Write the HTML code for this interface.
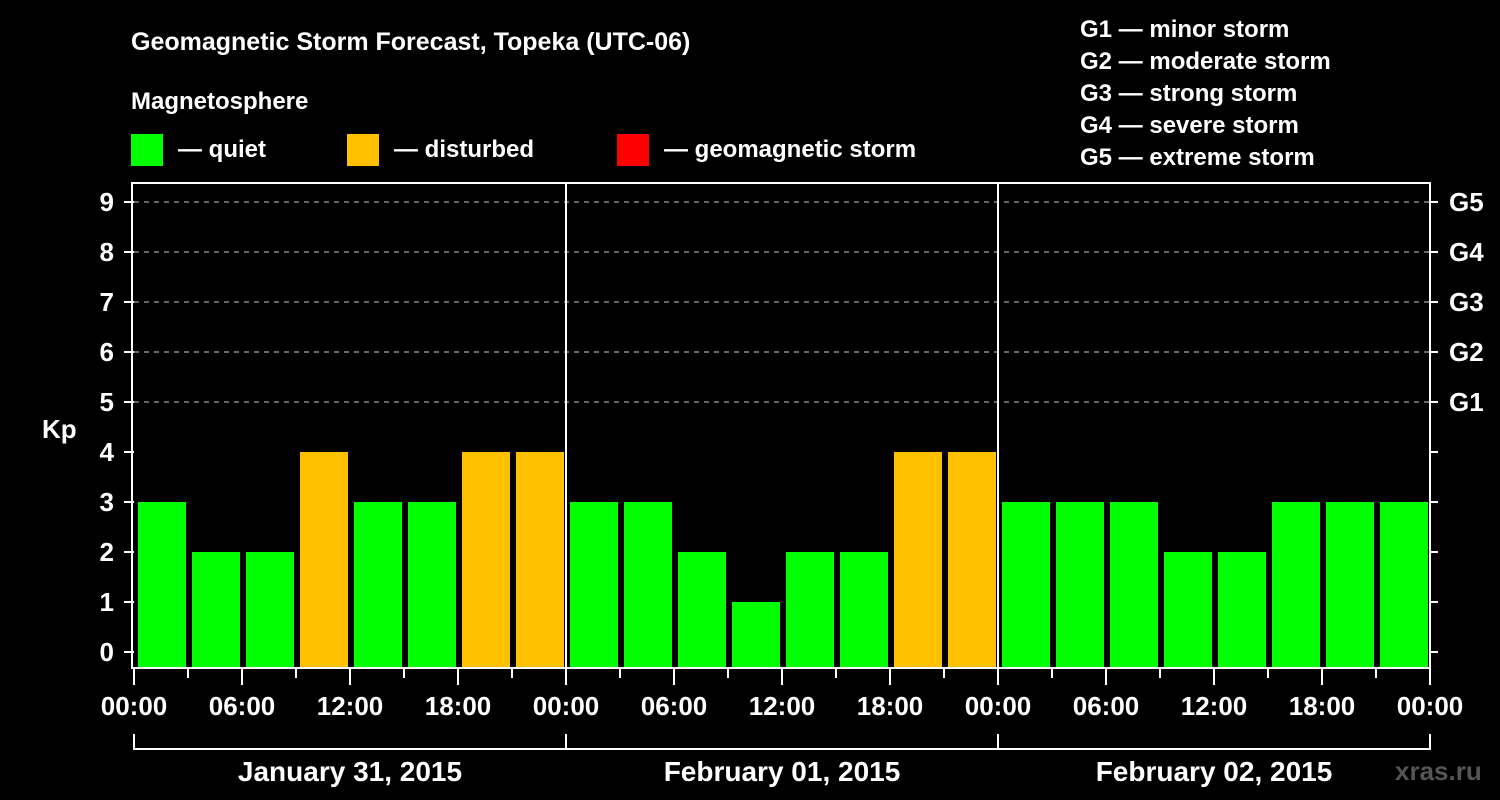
<!DOCTYPE html>
<html><head><meta charset="utf-8"><style>
body{margin:0;background:#000;}
svg{display:block;font-family:"Liberation Sans",Arial,sans-serif;font-weight:bold;}
</style></head><body>
<svg id="chart" width="1500" height="800" viewBox="0 0 1500 800">
<rect x="0" y="0" width="1500" height="800" fill="#000"/>
<text x="131" y="50" fill="#fff" font-size="25">Geomagnetic Storm Forecast, Topeka (UTC-06)</text>
<text x="131" y="109" fill="#fff" font-size="24">Magnetosphere</text>
<g><rect x="131" y="134" width="32" height="32" fill="#00ff00"/><text x="178" y="157" fill="#fff" font-size="24">— quiet</text></g>
<g><rect x="347" y="134" width="32" height="32" fill="#ffc000"/><text x="394" y="157" fill="#fff" font-size="24">— disturbed</text></g>
<g><rect x="617" y="134" width="32" height="32" fill="#ff0000"/><text x="664" y="157" fill="#fff" font-size="24">— geomagnetic storm</text></g>
<g fill="#fff" font-size="24">
<text x="1080" y="37">G1 — minor storm</text>
<text x="1080" y="69">G2 — moderate storm</text>
<text x="1080" y="101">G3 — strong storm</text>
<text x="1080" y="133">G4 — severe storm</text>
<text x="1080" y="165">G5 — extreme storm</text>
</g>
<text x="42" y="438" fill="#fff" font-size="26">Kp</text>
<text x="1395" y="780" fill="#555" font-size="26">xras.ru</text>
<g id="plot"></g>
</svg>
<script>
const values=[3,2,2,4,3,3,4,4, 3,3,2,1,2,2,4,4, 3,3,3,2,2,3,3,3];
const yTicks=[0,1,2,3,4,5,6,7,8,9];
const gLabels=["G1","G2","G3","G4","G5"];
const xTickLabels=["00:00","06:00","12:00","18:00","00:00","06:00","12:00","18:00","00:00","06:00","12:00","18:00","00:00"];
const dayLabels=["January 31, 2015","February 01, 2015","February 02, 2015"];
const NS="http://www.w3.org/2000/svg";
const X0=134,SLOT=54,Y0=652,UNIT=50,TOP=183,BOT=668,RIGHT=1430;
const xs=i=>X0+SLOT*i, ys=k=>Y0-UNIT*k;
const g=document.getElementById('plot');
function mk(t,a){const e=document.createElementNS(NS,t);for(const k in a)e.setAttribute(k,a[k]);g.appendChild(e);return e;}
yTicks.forEach(k=>{
 if(k>=5){const l=mk('line',{x1:X0,x2:RIGHT,y1:ys(k),y2:ys(k),stroke:'#888','stroke-width':1.5,'stroke-dasharray':'5,5'});
 
 }
 const t=mk('line',{x1:X0-10,x2:X0,y1:ys(k),y2:ys(k),stroke:'#fff','stroke-width':2});
 
 
 const r=mk('line',{x1:RIGHT,x2:RIGHT+8,y1:ys(k),y2:ys(k),stroke:'#fff','stroke-width':2});
 
 
 const tx=mk('text',{x:X0-20,y:ys(k)+9,fill:'#fff','font-size':26,'text-anchor':'end'});tx.textContent=k;
 
 
});
gLabels.forEach((s,i)=>{const tx=mk('text',{x:RIGHT+19,y:ys(5+i)+9,fill:'#fff','font-size':26});tx.textContent=s;
 
 });
values.forEach((v,i)=>{
 const c=v>=5?'#ff0000':(v>=4?'#ffc000':'#00ff00');
 const b=mk('rect',{x:xs(i)+4,y:ys(v),width:SLOT-6,height:BOT-ys(v),fill:c});
 
 
});
for(let i=0;i<=24;i++){
 const t=mk('line',{x1:xs(i),x2:xs(i),y1:BOT,y2:BOT+(i%2?10:17),stroke:'#fff','stroke-width':2});
 
 
}
xTickLabels.forEach((s,i)=>{const tx=mk('text',{x:xs(i*2),y:715,fill:'#fff','font-size':26,'text-anchor':'middle'});tx.textContent=s;
 
 });
[8,16].forEach(i=>{const l=mk('line',{x1:xs(i),x2:xs(i),y1:TOP,y2:BOT,stroke:'#fff','stroke-width':2});
 
 });
const fr=mk('rect',{x:X0-2,y:TOP,width:RIGHT-X0+2,height:BOT-TOP,fill:'none',stroke:'#fff','stroke-width':2});


const br=mk('path',{d:`M${xs(0)},734 V749 H${xs(24)} V734`,fill:'none',stroke:'#fff','stroke-width':2});


[8,16].forEach(i=>{const l=mk('line',{x1:xs(i),x2:xs(i),y1:734,y2:749,stroke:'#fff','stroke-width':2});
 
 });
dayLabels.forEach((s,i)=>{const tx=mk('text',{x:xs(i*8+4),y:781,fill:'#fff','font-size':28,'text-anchor':'middle'});tx.textContent=s;
 
 });
</script>
</body></html>
